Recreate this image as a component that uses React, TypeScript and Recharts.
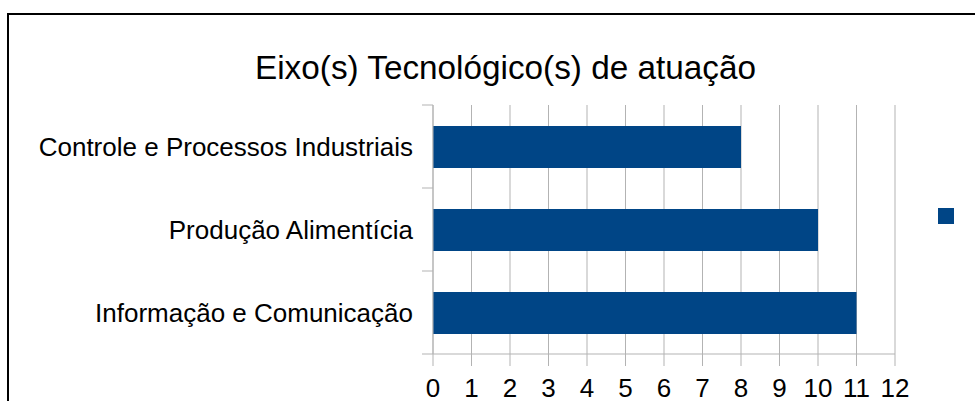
import React from 'react';
import { BarChart, Bar, XAxis, YAxis, CartesianGrid, Legend } from 'recharts';

const categories = [
  'Controle e Processos Industriais',
  'Produção Alimentícia',
  'Informação e Comunicação',
];
const values = [8, 10, 11];
const xTicks = [0, 1, 2, 3, 4, 5, 6, 7, 8, 9, 10, 11, 12];
const title = 'Eixo(s) Tecnológico(s) de atuação';

const data = categories.map((name, i) => ({ name, value: values[i] }));

// layout
const W = 975;
const H = 401;
const PLOT_LEFT = 433;
const PLOT_TOP = 105;
const PLOT_RIGHT = 895;
const PLOT_BOTTOM = 354;
const GRID = '#b3b3b3';
const BAR = '#004586';
const FONT = '"Liberation Sans", Arial, sans-serif';

// category ticks sit on the band edges, labels in the middle
const CategoryTick = (props: any) => {
  const { y, payload, index } = props;
  const band = (PLOT_BOTTOM - PLOT_TOP) / categories.length;
  return (
    <g>
      <line x1={PLOT_LEFT - 11} x2={PLOT_LEFT} y1={y - band / 2} y2={y - band / 2} stroke={GRID} />
      {index === categories.length - 1 && (
        <line x1={PLOT_LEFT - 11} x2={PLOT_LEFT} y1={y + band / 2} y2={y + band / 2} stroke={GRID} />
      )}
      <text
        x={PLOT_LEFT - 20}
        y={y}
        dy="0.355em"
        textAnchor="end"
        fontSize={26}
        fontFamily={FONT}
        fill="#000"
      >
        {payload.value}
      </text>
    </g>
  );
};

const LegendBox = () => <div style={{ width: 16, height: 16, background: BAR }} />;

const App: React.FC = () => {
  return (
    <div
      style={{
        position: 'absolute',
        left: 0,
        top: 0,
        width: W,
        height: H,
        overflow: 'hidden',
        background: '#fff',
        fontFamily: FONT,
      }}
    >
      <div
        style={{
          position: 'absolute',
          left: 7,
          top: 13,
          width: 2000,
          height: 2000,
          border: '2px solid #000',
        }}
      />
      <div
        style={{
          position: 'absolute',
          left: 0,
          top: 51,
          width: 1011,
          textAlign: 'center',
          fontSize: 33.3,
          lineHeight: '33px',
          color: '#000',
        }}
      >
        {title}
      </div>
      <div style={{ position: 'absolute', left: 0, top: 0 }}>
        <BarChart
          width={W}
          height={H}
          data={data}
          layout="vertical"
          margin={{ top: PLOT_TOP, right: W - PLOT_RIGHT, bottom: 0, left: 0 }}
        >
          <CartesianGrid horizontal={false} stroke={GRID} />
          <XAxis
            type="number"
            domain={[0, 12]}
            ticks={xTicks}
            interval={0}
            height={H - PLOT_BOTTOM}
            tickSize={12}
            tickMargin={13}
            axisLine={{ stroke: GRID }}
            tickLine={{ stroke: GRID }}
            tick={{ fontSize: 26, fill: '#000', fontFamily: FONT }}
          />
          <YAxis
            type="category"
            dataKey="name"
            width={PLOT_LEFT}
            axisLine={{ stroke: GRID }}
            tickLine={false}
            tick={<CategoryTick />}
            interval={0}
          />
          <Legend
            layout="horizontal"
            align="center"
            verticalAlign="middle"
            content={<LegendBox />}
            wrapperStyle={{ left: 938, top: 208, width: 16, height: 16 }}
          />
          <Bar dataKey="value" fill={BAR} barSize={42} isAnimationActive={false} />
        </BarChart>
      </div>
    </div>
  );
};

export default App;
